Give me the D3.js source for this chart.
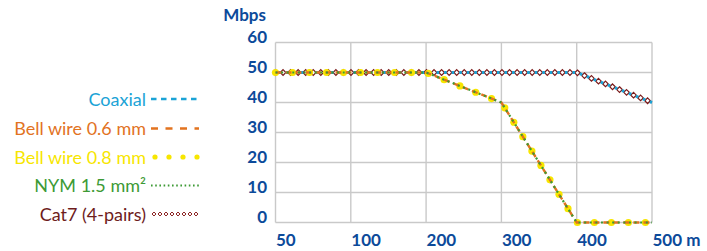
<!DOCTYPE html>
<html>
<head>
<meta charset="utf-8">
<script src="https://cdn.jsdelivr.net/npm/d3@7"></script>
<style>
  body { margin: 0; background: #fff; }
  svg text { font-family: Lato, "Open Sans", sans-serif; }
  .tick-label { font-weight: 700; font-size: 17px; fill: #0c4a9a; }
  .legend-text { font-size: 18px; }
</style>
</head>
<body>
<div class="chart"></div>
<script>
// distances on the x axis (even spacing, as in the original)
var distances = [50, 100, 200, 300, 400, 500];
var xTickLabels = ["50", "100", "200", "300", "400", "500 m"];
var yTicks = [0, 10, 20, 30, 40, 50, 60];

// data rates in Mbps, one value per distance
var coaxial = [50, 50, 50, 50, 50, 40];
var bellWire06 = [50, 50, 50, 40, 0, 0];
var bellWire08 = [50, 50, 50, 40, 0, 0];
var nym15 = [50, 50, 50, 40, 0, 0];
var cat7 = [50, 50, 50, 50, 50, 40];

var seriesNames = ["Coaxial", "Bell wire 0.6 mm", "Bell wire 0.8 mm", "NYM 1.5 mm²", "Cat7 (4-pairs)"];

var svgWidth = 707;
var svgHeight = 251;

var svg = d3.select(".chart")
  .append("svg")
  .attr("width", svgWidth)
  .attr("height", svgHeight);

var xScale = d3.scalePoint()
  .domain(distances)
  .range([275.5, 652]);

var yScale = d3.scaleLinear()
  .domain([0, 60])
  .range([222.5, 42.5]);

// grid
var grid = svg.append("g");
grid.selectAll(".hgrid")
  .data(yTicks)
  .enter()
  .append("line")
  .attr("x1", xScale(50))
  .attr("x2", xScale(500))
  .attr("y1", d => yScale(d))
  .attr("y2", d => yScale(d))
  .attr("stroke", "#c9c9c9")
  .attr("stroke-width", 1.4);

grid.selectAll(".vgrid")
  .data(distances)
  .enter()
  .append("line")
  .attr("x1", d => xScale(d))
  .attr("x2", d => xScale(d))
  .attr("y1", yScale(60))
  .attr("y2", yScale(0))
  .attr("stroke", "#c9c9c9")
  .attr("stroke-width", 1.4);

// y axis labels
var yAxis = svg.append("g")
  .attr("transform", "translate(267,0)")
  .call(d3.axisLeft(yScale).tickValues(yTicks).tickSize(0).tickPadding(0));
yAxis.select(".domain").remove();
yAxis.selectAll("text")
  .attr("class", "tick-label")
  .attr("dy", "0")
  .attr("y", 0)
  .attr("font-family", null)
  .attr("font-size", null);

svg.append("text")
  .attr("class", "tick-label")
  .attr("x", 266)
  .attr("y", 21)
  .attr("text-anchor", "end")
  .text("Mbps");

// x axis labels
var xAxis = svg.append("g")
  .attr("transform", "translate(0,246)")
  .call(d3.axisBottom(xScale).tickSize(0).tickPadding(0)
    .tickFormat((d, i) => xTickLabels[i]));
xAxis.select(".domain").remove();
xAxis.selectAll("text")
  .attr("class", "tick-label")
  .attr("text-anchor", "start")
  .attr("dy", "0")
  .attr("y", 0)
  .attr("font-family", null)
  .attr("font-size", null);

var line = d3.line()
  .x((d, i) => xScale(distances[i]))
  .y(d => yScale(d));

// place small marks along a path every `step` pixels
function marksAlong(path, step, offset) {
  var node = path.node();
  var len = node.getTotalLength();
  var pts = [];
  for (var s = offset; s <= len + 0.5; s += step) {
    var p = node.getPointAtLength(Math.min(s, len));
    pts.push([p.x, p.y]);
  }
  return pts;
}

var lines = svg.append("g");

// Cat7: small white diamonds with dark red outline
var cat7Path = lines.append("path")
  .attr("d", line(cat7))
  .attr("fill", "none")
  .attr("stroke", "#7a1a1a")
  .attr("stroke-width", 1.2);
lines.selectAll(".cat7")
  .data(marksAlong(cat7Path, 7.55, 0))
  .enter()
  .append("path")
  .attr("d", d3.symbol(d3.symbolDiamond2, 20))
  .attr("transform", d => `translate(${d[0]},${d[1]})`)
  .attr("fill", "#fff")
  .attr("stroke", "#7a1a1a")
  .attr("stroke-width", 1.2);

// Coaxial: cyan dashes between the diamonds
lines.append("path")
  .attr("d", line(coaxial))
  .attr("fill", "none")
  .attr("stroke", "#1ba3d6")
  .attr("stroke-width", 3)
  .attr("stroke-dasharray", "2.6 4.95")
  .attr("stroke-dashoffset", -2.5);

// Bell wire 0.8: yellow dots
var b08Path = lines.append("path")
  .attr("d", line(bellWire08))
  .attr("fill", "none")
  .attr("stroke", "none");
lines.selectAll(".b08")
  .data(marksAlong(b08Path, 17, 0))
  .enter()
  .append("circle")
  .attr("cx", d => d[0])
  .attr("cy", d => d[1])
  .attr("r", 3.6)
  .attr("fill", "#f7e600");

// Bell wire 0.6: orange dashes
lines.append("path")
  .attr("d", line(bellWire06))
  .attr("fill", "none")
  .attr("stroke", "#e2731f")
  .attr("stroke-width", 2.4)
  .attr("stroke-dasharray", "6 4");

// NYM 1.5: green small dots
lines.append("path")
  .attr("d", line(nym15))
  .attr("fill", "none")
  .attr("stroke", "#3d9a35")
  .attr("stroke-width", 2.2)
  .attr("stroke-dasharray", "2 3.6");

// legend
var legendColors = ["#1ba3d6", "#e2731f", "#f7e600", "#3d9a35", "#6e1c1c"];
var legendY = [99, 128.5, 157, 185.5, 214];

var legend = svg.append("g");
legend.selectAll("text")
  .data(seriesNames)
  .enter()
  .append("text")
  .attr("class", "legend-text")
  .attr("x", 146)
  .attr("y", (d, i) => legendY[i] + 6.5)
  .attr("text-anchor", "end")
  .attr("fill", (d, i) => legendColors[i])
  .text(d => d);

var sx0 = 151, sx1 = 199;
// coaxial sample
legend.append("line")
  .attr("x1", sx0).attr("x2", sx1)
  .attr("y1", legendY[0]).attr("y2", legendY[0])
  .attr("stroke", legendColors[0]).attr("stroke-width", 2.5)
  .attr("stroke-dasharray", "5.5 4.5");
// bell 0.6 sample
legend.append("line")
  .attr("x1", sx0).attr("x2", sx1)
  .attr("y1", legendY[1]).attr("y2", legendY[1])
  .attr("stroke", legendColors[1]).attr("stroke-width", 2.6)
  .attr("stroke-dasharray", "7 7.5");
// bell 0.8 sample
legend.selectAll(".b08leg")
  .data(d3.range(4))
  .enter()
  .append("circle")
  .attr("cx", d => 155 + d * 14)
  .attr("cy", legendY[2])
  .attr("r", 2.6)
  .attr("fill", legendColors[2]);
// nym sample
legend.append("line")
  .attr("x1", sx0).attr("x2", sx1)
  .attr("y1", legendY[3]).attr("y2", legendY[3])
  .attr("stroke", legendColors[3]).attr("stroke-width", 1.8)
  .attr("stroke-dasharray", "1.6 2.6");
// cat7 sample
legend.selectAll(".c7leg")
  .data(d3.range(8))
  .enter()
  .append("path")
  .attr("d", d3.symbol(d3.symbolDiamond2, 10))
  .attr("transform", d => `translate(${154 + d * 6},${legendY[4]})`)
  .attr("fill", "#fff")
  .attr("stroke", "#8a2020")
  .attr("stroke-width", 1);
</script>
</body>
</html>
